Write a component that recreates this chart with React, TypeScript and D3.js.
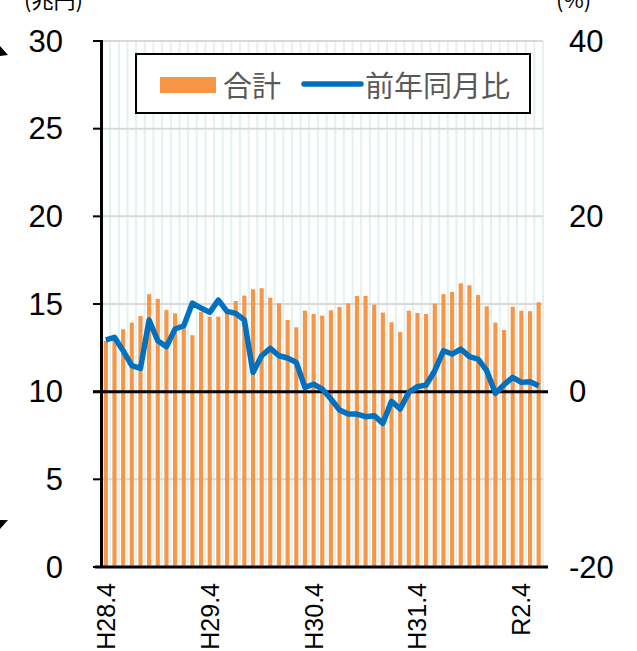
import { useEffect, useRef } from "react";
import * as d3 from "d3";

// monthly totals (兆円), H28.4 .. R2.6
const totals = [
  12.9, 13.1, 13.56, 13.94, 14.32, 15.56, 15.29, 14.66, 14.47, 13.8, 13.22, 14.56,
  14.28, 14.28, 14.5, 15.17, 15.48, 15.84, 15.9, 15.36, 15.04, 14.09, 13.67, 14.62,
  14.43, 14.34, 14.64, 14.83, 15.04, 15.46, 15.46, 14.96, 14.51, 13.96, 13.41, 14.62,
  14.49, 14.43, 15.02, 15.56, 15.69, 16.18, 16.07, 15.52, 14.87, 13.94, 13.52, 14.85,
  14.62, 14.59, 15.1,
];

// year-on-year change (%)
const yoy = [
  5.9, 6.2, 4.67, 2.96, 2.66, 8.17, 5.81, 5.13, 7.15, 7.52, 10.11, 9.54,
  9.04, 10.45, 9.16, 8.93, 8.17, 2.2, 4.1, 4.94, 4.1, 3.84, 3.34, 0.49,
  0.85, 0.3, -0.84, -2.09, -2.55, -2.55, -2.85, -2.74, -3.61, -1.1, -1.98, -0.08,
  0.57, 0.76, 2.39, 4.67, 4.29, 4.86, 3.99, 3.72, 2.39, -0.19, 0.8, 1.63,
  1.06, 1.14, 0.68,
];

const tickLabels = ["H28.4", "H29.4", "H30.4", "H31.4", "R2.4"];
const tickIndex = [0, 12, 24, 36, 48];
const leftTicks = [0, 5, 10, 15, 20, 25, 30];
const rightTicks = [-20, 0, 20, 40];

const W = 637;
const H = 651;
const NUM = "'Liberation Sans', Arial, sans-serif";
const JP = "'Noto Sans CJK JP', 'Noto Sans', sans-serif";

export default function App() {
  const svgRef = useRef<SVGSVGElement | null>(null);

  useEffect(() => {
    if (!svgRef.current) return;
    const svg = d3.select(svgRef.current);
    svg.selectAll("*").remove();

    const left = 101.5, right = 543, top = 41, bottom = 567;

    const x = d3.scaleBand<number>()
      .domain(totals.map((_, i) => i))
      .range([left, right])
      .paddingInner(0.52)
      .paddingOuter(0.26);
    const yL = d3.scaleLinear().domain([0, 30]).range([bottom, top]);
    const yR = d3.scaleLinear().domain([-20, 40]).range([bottom, top]);

    // vertical grid
    const vg = svg.append("g");
    for (let i = 0; i <= totals.length; i++) {
      const gx = left + i * (right - left) / totals.length;
      vg.append("line")
        .attr("x1", gx).attr("x2", gx)
        .attr("y1", top).attr("y2", bottom)
        .attr("stroke", "#e2f1f1").attr("stroke-width", 2);
    }

    // horizontal grid
    leftTicks.filter(t => t !== 0 && t !== 10).forEach(t => {
      svg.append("line")
        .attr("x1", left).attr("x2", right)
        .attr("y1", yL(t)).attr("y2", yL(t))
        .attr("stroke", "#d9d9d9").attr("stroke-width", 2);
    });

    // bars
    svg.append("g").selectAll("rect")
      .data(totals)
      .join("rect")
      .attr("x", (_, i) => x(i)!)
      .attr("width", x.bandwidth())
      .attr("y", d => yL(d))
      .attr("height", d => yL(0) - yL(d))
      .attr("fill", "#f79646");

    // zero line and bottom axis
    svg.append("line")
      .attr("x1", 93).attr("x2", 548)
      .attr("y1", yR(0)).attr("y2", yR(0))
      .attr("stroke", "#000").attr("stroke-width", 3);
    svg.append("line")
      .attr("x1", 95).attr("x2", 548)
      .attr("y1", bottom).attr("y2", bottom)
      .attr("stroke", "#000").attr("stroke-width", 3);

    // line
    const line = d3.line<number>()
      .x((_, i) => x(i)! + x.bandwidth() / 2)
      .y(d => yR(d));
    svg.append("path")
      .datum(yoy)
      .attr("d", line)
      .attr("fill", "none")
      .attr("stroke", "#0070c0")
      .attr("stroke-width", 5.5)
      .attr("stroke-linejoin", "round");

    // left axis
    svg.append("line")
      .attr("x1", left).attr("x2", left)
      .attr("y1", top - 1).attr("y2", bottom + 1)
      .attr("stroke", "#000").attr("stroke-width", 3);
    leftTicks.forEach(t => {
      svg.append("line")
        .attr("x1", 93).attr("x2", left)
        .attr("y1", yL(t)).attr("y2", yL(t))
        .attr("stroke", "#000").attr("stroke-width", 2);
      svg.append("text")
        .attr("x", 63).attr("y", yL(t))
        .attr("text-anchor", "end")
        .attr("dominant-baseline", "central")
        .attr("font-family", NUM).attr("font-size", 31)
        .attr("fill", "#000")
        .text(t);
    });

    // right axis labels
    rightTicks.forEach(t => {
      svg.append("text")
        .attr("x", 569).attr("y", yR(t))
        .attr("dominant-baseline", "central")
        .attr("font-family", NUM).attr("font-size", 31)
        .attr("fill", "#000")
        .text(t);
    });

    // x labels
    tickIndex.forEach((idx, k) => {
      const cx = x(idx)! + x.bandwidth() / 2;
      svg.append("text")
        .attr("transform", `translate(${cx},583) rotate(-90)`)
        .attr("text-anchor", "end")
        .attr("dominant-baseline", "central")
        .attr("font-family", NUM).attr("font-size", 25)
        .attr("fill", "#000")
        .text(tickLabels[k]);
    });

    // unit labels (clipped at top, as in the source)
    svg.append("text")
      .attr("x", 24).attr("y", 8)
      .attr("font-family", JP).attr("font-size", 22)
      .attr("fill", "#000")
      .text("(兆円)");
    svg.append("text")
      .attr("x", 556).attr("y", 8)
      .attr("font-family", JP).attr("font-size", 22)
      .attr("fill", "#000")
      .text("(%)");

    // arrow fragments at the left edge
    svg.append("path").attr("d", "M0,46 L8,55 L0,56 Z").attr("fill", "#000");
    svg.append("path").attr("d", "M0,520 L8,520 L0,529 Z").attr("fill", "#000");

    // legend
    const lg = svg.append("g");
    lg.append("rect")
      .attr("x", 136).attr("y", 54).attr("width", 394).attr("height", 59)
      .attr("fill", "#fff").attr("stroke", "#000").attr("stroke-width", 2);
    lg.append("rect")
      .attr("x", 160).attr("y", 77).attr("width", 56).attr("height", 16)
      .attr("fill", "#f79646");
    lg.append("text")
      .attr("x", 223).attr("y", 84)
      .attr("dominant-baseline", "central")
      .attr("font-family", JP).attr("font-size", 29)
      .attr("fill", "#595959")
      .text("合計");
    lg.append("line")
      .attr("x1", 304).attr("x2", 361).attr("y1", 84).attr("y2", 84)
      .attr("stroke", "#0070c0").attr("stroke-width", 5.5)
      .attr("stroke-linecap", "round");
    lg.append("text")
      .attr("x", 365).attr("y", 84)
      .attr("dominant-baseline", "central")
      .attr("font-family", JP).attr("font-size", 29)
      .attr("fill", "#595959")
      .text("前年同月比");
  }, []);

  return (
    <svg
      ref={svgRef}
      width={W}
      height={H}
      style={{ position: "absolute", left: 0, top: 0, background: "#fff" }}
    />
  );
}
